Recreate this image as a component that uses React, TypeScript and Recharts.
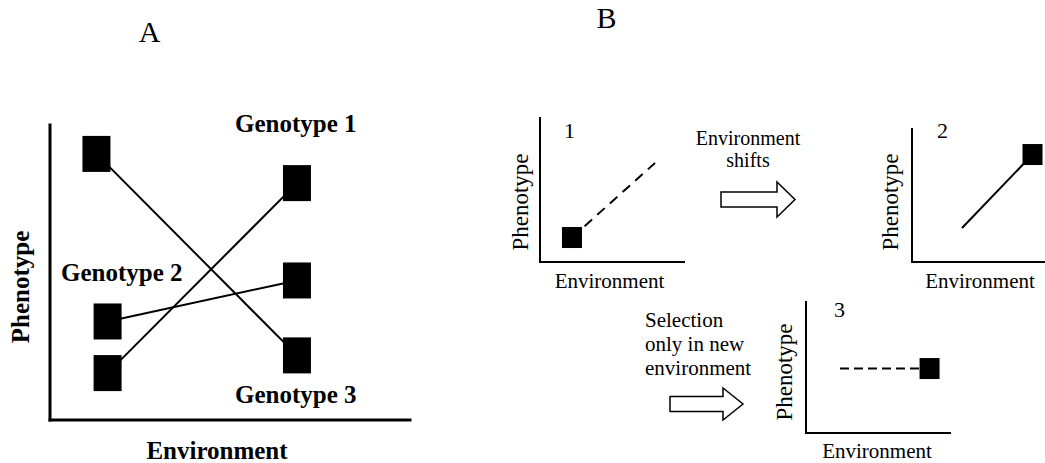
import React from 'react';
import { ScatterChart, Scatter, XAxis, YAxis } from 'recharts';

const W = 1045;
const H = 463;
const SERIF = "'Liberation Serif', 'Times New Roman', serif";

// Panel A: phenotype of three genotypes in a low and a high environment
const genotypeNames = ['Genotype 1', 'Genotype 2', 'Genotype 3'];
const genotype1 = [
  { x: 1.6, y: 1.59 },
  { x: 6.86, y: 8.03 },
];
const genotype2 = [
  { x: 1.6, y: 3.34 },
  { x: 6.86, y: 4.73 },
];
const genotype3 = [
  { x: 1.29, y: 9.02 },
  { x: 6.86, y: 2.19 },
];

// Panel B: one genotype before the shift, after the shift, after selection
// marked = measured phenotype (square); unmarked end = projected norm
const stage1 = [
  { x: 2.22, y: 1.7, marked: true },
  { x: 7.99, y: 6.88, marked: false },
];
const stage2 = [
  { x: 3.76, y: 2.56, marked: false },
  { x: 9.06, y: 8.08, marked: true },
];
const stage3 = [
  { x: 2.36, y: 4.92, marked: false },
  { x: 8.58, y: 4.92, marked: true },
];
const stageNumbers = ['1', '2', '3'];
const selectionNote = ['Selection', 'only in new', 'environment'];
const shiftNote = ['Environment', 'shifts'];

const squareShape = (w: number, h: number) => (props: any) => {
  if (props.payload && props.payload.marked === false) return <g />;
  return <rect x={props.cx - w / 2} y={props.cy - h / 2} width={w} height={h} fill="#000" />;
};

// plot box given in page pixels; the 1px axes sit just outside it
function Panel({ box, axisWidth, children }: { box: { l: number; t: number; r: number; b: number }; axisWidth: number; children: React.ReactNode }) {
  const axisLine = { stroke: '#000', strokeWidth: axisWidth, strokeLinecap: 'square' as const };
  const margin = { left: box.l - 1, top: box.t, right: W - box.r, bottom: H - box.b - 1 };
  return (
    <div style={{ position: 'absolute', left: 0, top: 0 }}>
      <ScatterChart width={W} height={H} margin={margin}>
        <XAxis type="number" dataKey="x" domain={[0, 10]} tick={false} tickLine={false} height={1} axisLine={axisLine} />
        <YAxis type="number" dataKey="y" domain={[0, 10]} tick={false} tickLine={false} width={1} axisLine={axisLine} />
        {children}
      </ScatterChart>
    </div>
  );
}

function BlockArrow({ x0, xh, x1, cy, body, head }: { x0: number; xh: number; x1: number; cy: number; body: number; head: number }) {
  const pts = [
    [x0, cy - body / 2],
    [xh, cy - body / 2],
    [xh, cy - head / 2],
    [x1, cy],
    [xh, cy + head / 2],
    [xh, cy + body / 2],
    [x0, cy + body / 2],
  ]
    .map((p) => p.join(','))
    .join(' ');
  return <polygon points={pts} fill="#fff" stroke="#000" strokeWidth={1.5} />;
}

export default function App() {
  const line = (dash?: string) => ({ stroke: '#000', strokeWidth: 2, strokeDasharray: dash });
  return (
    <div style={{ position: 'absolute', left: 0, top: 0, width: W, height: H, background: '#fff' }}>
      {/* A */}
      <Panel box={{ l: 50, t: 125, r: 410, b: 420 }} axisWidth={3}>
        <Scatter data={genotype3} line={line()} shape={squareShape(28, 36)} isAnimationActive={false} />
        <Scatter data={genotype1} line={line()} shape={squareShape(28, 36)} isAnimationActive={false} />
        <Scatter data={genotype2} line={line()} shape={squareShape(28, 36)} isAnimationActive={false} />
      </Panel>

      {/* B1 */}
      <Panel box={{ l: 540, t: 118, r: 684, b: 262 }} axisWidth={2}>
        <Scatter data={stage1} line={line('10 7')} shape={squareShape(20, 21)} isAnimationActive={false} />
      </Panel>

      {/* B2 */}
      <Panel box={{ l: 912, t: 129, r: W, b: 262 }} axisWidth={2}>
        <Scatter data={stage2} line={line()} shape={squareShape(20, 21)} isAnimationActive={false} />
      </Panel>

      {/* B3 */}
      <Panel box={{ l: 806, t: 302, r: 950, b: 433 }} axisWidth={2}>
        <Scatter data={stage3} line={line('9 5')} shape={squareShape(20, 21)} isAnimationActive={false} />
      </Panel>

      <svg width={W} height={H} style={{ position: 'absolute', left: 0, top: 0, pointerEvents: 'none' }} fontFamily={SERIF} fill="#000">
        <text x={149.5} y={42} fontSize={30} textAnchor="middle">A</text>
        <text x={606.5} y={28} fontSize={30} textAnchor="middle">B</text>

        <g fontWeight="bold" fontSize={25}>
          <text x={235} y={132}>{genotypeNames[0]}</text>
          <text x={61} y={281}>{genotypeNames[1]}</text>
          <text x={235} y={403}>{genotypeNames[2]}</text>
          <text x={217} y={459} textAnchor="middle">Environment</text>
          <text x={29} y={287} textAnchor="middle" transform="rotate(-90 29 287)">Phenotype</text>
        </g>

        <g fontSize={21}>
          <text x={609.5} y={288} textAnchor="middle">Environment</text>
          <text x={980} y={288} textAnchor="middle">Environment</text>
          <text x={877} y={458} textAnchor="middle">Environment</text>
        </g>
        <g fontSize={23} textAnchor="middle">
          <text x={528} y={202} transform="rotate(-90 528 202)">Phenotype</text>
          <text x={898} y={202} transform="rotate(-90 898 202)">Phenotype</text>
          <text x={792} y={372} transform="rotate(-90 792 372)">Phenotype</text>
        </g>
        <g fontSize={22}>
          <text x={564} y={138}>{stageNumbers[0]}</text>
          <text x={937} y={138}>{stageNumbers[1]}</text>
          <text x={834} y={317}>{stageNumbers[2]}</text>
        </g>

        <g fontSize={20} textAnchor="middle">
          <text x={748} y={145}>{shiftNote[0]}</text>
          <text x={748} y={167}>{shiftNote[1]}</text>
        </g>
        <g fontSize={21}>
          <text x={645} y={327}>{selectionNote[0]}</text>
          <text x={645} y={351}>{selectionNote[1]}</text>
          <text x={645} y={375}>{selectionNote[2]}</text>
        </g>

        <BlockArrow x0={721} xh={777} x1={795} cy={199.5} body={15} head={35} />
        <BlockArrow x0={670} xh={723} x1={743} cy={404} body={15} head={32} />
      </svg>
    </div>
  );
}
